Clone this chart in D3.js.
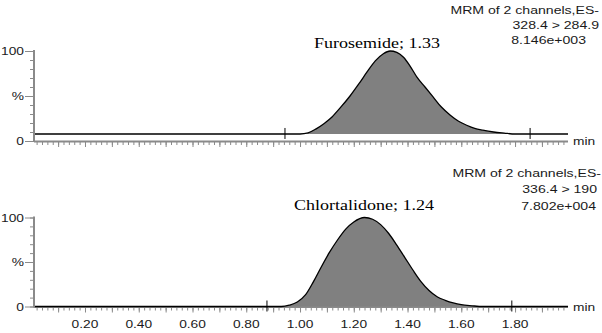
<!DOCTYPE html>
<html>
<head>
<meta charset="utf-8">
<script src="https://cdn.jsdelivr.net/npm/d3@7"></script>
<style>
  body { margin: 0; background: #fff; }
  svg { display: block; }
</style>
</head>
<body>
<svg id="chart" width="602" height="333"></svg>
<script>
// chromatogram traces (time in min, intensity in %)
const furoTime = [0.014, 1.00, 1.03, 1.06, 1.09, 1.12, 1.15, 1.186, 1.22, 1.25, 1.28, 1.31, 1.335, 1.36, 1.385, 1.41, 1.435, 1.465, 1.495, 1.525, 1.558, 1.59, 1.62, 1.65, 1.68, 1.72, 1.76, 1.80, 1.997];
const furoInt  = [7.8, 7.8, 9, 13.5, 19.5, 27, 37, 50, 64, 77, 89, 97, 100, 98.5, 93, 83, 71, 60, 49, 38, 29, 22, 17.5, 14, 12, 10, 8.8, 7.8, 7.8];
const furoBase = 7.8;

const chlorTime = [0.014, 0.93, 0.96, 0.99, 1.02, 1.05, 1.08, 1.11, 1.14, 1.17, 1.20, 1.24, 1.27, 1.30, 1.33, 1.36, 1.39, 1.42, 1.45, 1.48, 1.51, 1.54, 1.57, 1.60, 1.64, 1.68, 1.997];
const chlorInt  = [0, 0, 1.5, 5, 13, 28, 45, 61, 75, 87, 95, 100, 98, 92, 82, 69, 55, 41, 28, 18, 11, 7, 4, 2, 0.8, 0, 0];
const chlorBase = 0;

// integration markers
const furoMarks = [0.944, 1.856];
const chlorMarks = [0.877, 1.788];

// labels
const peakLabels = ["Furosemide; 1.33", "Chlortalidone; 1.24"];
const headerTop = ["MRM of 2 channels,ES-", "328.4 > 284.9", "8.146e+003"];
const headerBottom = ["MRM of 2 channels,ES-", "336.4 > 190", "7.802e+004"];
const xLabelTicks = [0.20, 0.40, 0.60, 0.80, 1.00, 1.20, 1.40, 1.60, 1.80];
const yTickLabels = [[100, "100"], [50, "%"], [0, "0"]];

const svg = d3.select("#chart");
const x = d3.scaleLinear().domain([0.014, 1.997]).range([35, 568]);
const axisColor = "#8a8a8a";
const sans = "'Liberation Sans', Arial, sans-serif";
const serif = "'Liberation Serif', 'Times New Roman', serif";

// stretched text helper (source picture is widened horizontally)
function stext(g, tx, ty, str, opts) {
  const t = g.append("g").attr("transform", `translate(${tx},${ty}) scale(${opts.sx || 1.27},1)`)
    .append("text")
    .attr("x", 0).attr("y", 0)
    .attr("text-anchor", opts.anchor || "start")
    .attr("font-family", opts.family || sans)
    .attr("font-size", opts.size || 11)
    .attr("fill", opts.fill || "#1a1a1a")
    .text(str);
  return t;
}

function panel(cfg) {
  const g = svg.append("g");
  const y = d3.scaleLinear().domain([0, 100]).range([cfg.y0, cfg.y100]);

  // y axis: minor ticks every 10
  const yMinor = d3.axisLeft(y).tickValues(d3.range(0, 101, 10)).tickSize(4).tickFormat("");
  const yMajor = d3.axisLeft(y).tickValues(yTickLabels.map(d => d[0])).tickSize(9).tickFormat("");
  [yMinor, yMajor].forEach(a => {
    const ag = g.append("g").attr("transform", "translate(34,0)").call(a);
    ag.select(".domain").remove();
    ag.selectAll("line").attr("stroke", axisColor).attr("stroke-width", 1);
  });
  g.append("line").attr("x1", 34).attr("x2", 34).attr("y1", cfg.y100 - 1).attr("y2", cfg.y0 + 1)
    .attr("stroke", axisColor).attr("stroke-width", 2);
  yTickLabels.forEach(([v, lab]) => {
    stext(g, 24, y(v) + 4, lab, { anchor: "end", sx: 1.25 });
  });

  // x axis
  const xMinor = d3.axisBottom(x).tickValues(d3.range(0.02, 1.99, 0.02)).tickSize(3).tickFormat("");
  const xMajor = d3.axisBottom(x).tickValues(d3.range(0.1, 1.95, 0.1)).tickSize(5).tickFormat("");
  [xMinor, xMajor].forEach(a => {
    const ag = g.append("g").attr("transform", `translate(0,${cfg.y0 + 1})`).call(a);
    ag.select(".domain").remove();
    ag.selectAll("line").attr("stroke", axisColor).attr("stroke-width", 1);
  });
  g.append("line").attr("x1", 34).attr("x2", 568).attr("y1", cfg.y0 + 0.5).attr("y2", cfg.y0 + 0.5)
    .attr("stroke", axisColor).attr("stroke-width", 2);

  if (cfg.labels) {
    xLabelTicks.forEach(v => {
      stext(g, x(v), cfg.y0 + 21, v.toFixed(2), { anchor: "middle", sx: 1.25 });
    });
  }
  stext(g, 573, cfg.y0 + 4, "min", { sx: 1.25 });

  // trace
  const pts = cfg.time.map((t, i) => [t, cfg.inten[i]]);
  const area = d3.area().x(d => x(d[0])).y0(y(cfg.base)).y1(d => y(d[1])).curve(d3.curveMonotoneX);
  const line = d3.line().x(d => x(d[0])).y(d => y(d[1])).curve(d3.curveMonotoneX);
  g.append("path").datum(pts).attr("d", area).attr("fill", "#808080");
  g.append("path").datum(pts).attr("d", line).attr("fill", "none").attr("stroke", "#000").attr("stroke-width", 1.3);

  // integration markers
  cfg.marks.forEach(t => {
    g.append("line").attr("x1", x(t)).attr("x2", x(t))
      .attr("y1", y(cfg.base) - 6).attr("y2", y(cfg.base) + 5)
      .attr("stroke", "#000").attr("stroke-width", 1);
  });

  // peak label
  stext(g, cfg.labelX, cfg.labelY, cfg.peak, { anchor: "middle", family: serif, size: 15, sx: 1.2, fill: "#000" });

  // header
  cfg.header.forEach((h, i) => {
    stext(g, cfg.headerX[i], cfg.headerY[i], h, { anchor: "end", sx: 1.28 });
  });
}

panel({
  y0: 141, y100: 51, time: furoTime, inten: furoInt, base: furoBase, marks: furoMarks,
  peak: peakLabels[0], labelX: 377, labelY: 48, labels: false,
  header: headerTop, headerX: [599, 599, 586], headerY: [14, 28.5, 43.5]
});
panel({
  y0: 306.5, y100: 217.5, time: chlorTime, inten: chlorInt, base: chlorBase, marks: chlorMarks,
  peak: peakLabels[1], labelX: 364, labelY: 210, labels: true,
  header: headerBottom, headerX: [601, 597, 596], headerY: [176.5, 193, 209.5]
});
</script>
</body>
</html>
